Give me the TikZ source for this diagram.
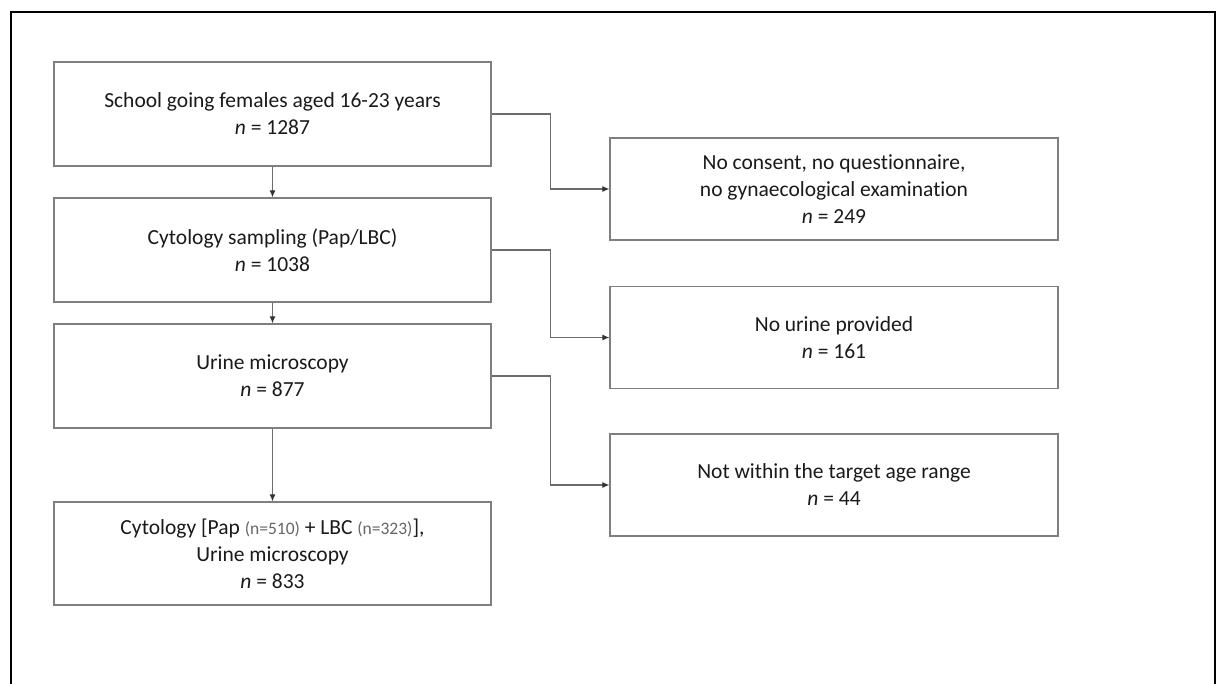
\documentclass[tikz,border=0pt]{standalone}
\usepackage{fontspec}
\setmainfont{Carlito}[Ligatures=NoCommon]
\usetikzlibrary{arrows.meta}
\definecolor{boxline}{HTML}{7F7F7F}
\definecolor{txt}{HTML}{1A1A1A}
\tikzset{
  box/.style={draw=boxline, line width=1.3pt, rectangle, align=center, inner sep=0pt,
    text=txt, font=\fontsize{21.5}{27}\selectfont},
  leftbox/.style={box, minimum width=437pt, minimum height=104pt},
  rightbox/.style={box, minimum width=448pt, minimum height=102pt},
  arr/.style={draw=boxline!85!black, line width=1.1pt, -{Latex[length=7pt,width=6pt,color=black!80]}},
  frameline/.style={draw=black, line width=2pt}
}
\newcommand{\smalln}[1]{{\fontsize{17.5}{20}\selectfont\color{boxline!80!black}#1}}
\begin{document}
\begin{tikzpicture}[x=1pt,y=-1pt]
\useasboundingbox (0,0) rectangle (1217,684);
\fill[white] (0,0) rectangle (1217,684);
\draw[frameline] (11,700) -- (11,12) -- (1215,12) -- (1215,700);

\node[leftbox] (b1) at (272.5,114) {School going females aged 16-23 years\\ \textit{n} = 1287};
\node[leftbox] (b2) at (272.5,250) {Cytology sampling (Pap/LBC)\\ \textit{n} = 1038};
\node[leftbox] (b3) at (272.5,376) {Urine microscopy\\ \textit{n} = 877};
\node[leftbox, minimum height=103pt] (b4) at (272.5,553.5) {Cytology [Pap \smalln{(n=510)} + LBC \smalln{(n=323)}],\\ Urine microscopy\\ \textit{n} = 833};

\node[rightbox] (r1) at (834,189) {No consent, no questionnaire,\\ no gynaecological examination\\ \textit{n} = 249};
\node[rightbox] (r2) at (834,337.5) {No urine provided\\ \textit{n} = 161};
\node[rightbox] (r3) at (834,485) {Not within the target age range\\ \textit{n} = 44};

\draw[arr] (b1.south) -- (b2.north);
\draw[arr] (b2.south) -- (b3.north);
\draw[arr] (b3.south) -- (b4.north);

\draw[arr] (b1.east) -- ([xshift=59pt]b1.east) |- (r1.west);
\draw[arr] (b2.east) -- ([xshift=59pt]b2.east) |- (r2.west);
\draw[arr] (b3.east) -- ([xshift=59pt]b3.east) |- (r3.west);
\end{tikzpicture}
\end{document}
